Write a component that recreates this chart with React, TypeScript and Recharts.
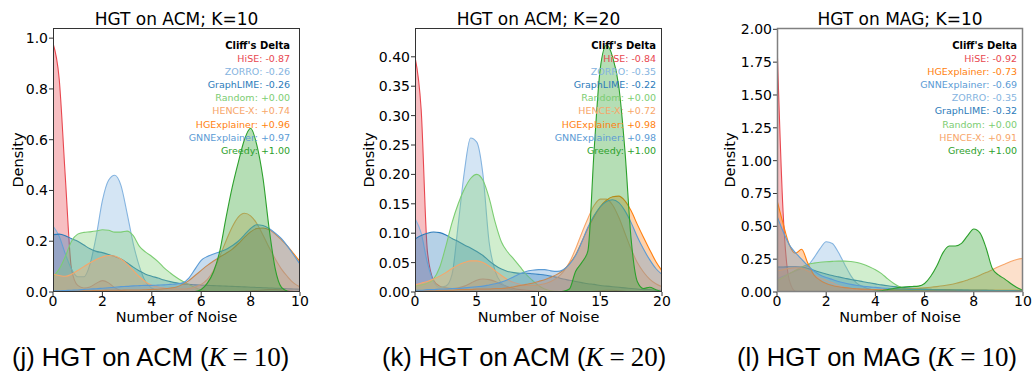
import React from 'react';
import { ComposedChart, Area, XAxis, YAxis } from 'recharts';

// x grids for the density curves
const xs10 = [0, 0.25, 0.5, 0.75, 1, 1.25, 1.5, 1.75, 2, 2.25, 2.5, 2.75, 3, 3.25, 3.5, 3.75, 4, 4.25, 4.5, 4.75, 5, 5.25, 5.5, 5.75, 6, 6.25, 6.5, 6.75, 7, 7.25, 7.5, 7.75, 8, 8.25, 8.5, 8.75, 9, 9.25, 9.5, 9.75, 10];
const xs20 = [0, 0.5, 1, 1.5, 2, 2.5, 3, 3.5, 4, 4.5, 5, 5.5, 6, 6.5, 7, 7.5, 8, 8.5, 9, 9.5, 10, 10.5, 11, 11.5, 12, 12.5, 13, 13.5, 14, 14.5, 15, 15.5, 16, 16.5, 17, 17.5, 18, 18.5, 19, 19.5, 20];

const methods = ['HiSE', 'ZORRO', 'GraphLIME', 'Random', 'HENCE-X', 'HGExplainer', 'GNNExplainer', 'Greedy'];
const colors: Record<string, string> = {
  HiSE: '#e8474f',
  ZORRO: '#85b4e0',
  GraphLIME: '#2b7bba',
  Random: '#7ccd73',
  'HENCE-X': '#f7a66a',
  HGExplainer: '#ff7f0e',
  GNNExplainer: '#5b9bd5',
  Greedy: '#2ca02c',
};

// (j) HGT on ACM, K=10
const acm10HiSE = [0.98, 0.84, 0.45, 0.09, 0.026, 0.016, 0.02, 0.034, 0.045, 0.036, 0.017, 0.006, 0.002, 0.001, 0, 0, 0, 0, 0, 0, 0, 0, 0, 0, 0, 0, 0, 0, 0, 0.001, 0.002, 0.003, 0.004, 0.006, 0.008, 0.01, 0.01, 0.008, 0.005, 0.002, 0.001];
const acm10Zorro = [0.26, 0.22, 0.15, 0.09, 0.06, 0.06, 0.11, 0.22, 0.36, 0.44, 0.46, 0.42, 0.31, 0.19, 0.1, 0.04, 0.015, 0.005, 0.002, 0, 0, 0, 0, 0, 0, 0, 0, 0, 0, 0, 0, 0, 0, 0, 0, 0, 0, 0, 0, 0, 0];
const acm10GraphLime = [0.226, 0.228, 0.222, 0.21, 0.2, 0.185, 0.17, 0.16, 0.155, 0.148, 0.14, 0.13, 0.115, 0.098, 0.083, 0.07, 0.062, 0.055, 0.047, 0.041, 0.036, 0.032, 0.03, 0.028, 0.027, 0.026, 0.025, 0.024, 0.023, 0.022, 0.021, 0.02, 0.019, 0.018, 0.017, 0.016, 0.015, 0.014, 0.013, 0.012, 0.011];
const acm10Random = [0.06, 0.09, 0.14, 0.2, 0.228, 0.235, 0.237, 0.24, 0.245, 0.243, 0.236, 0.236, 0.24, 0.222, 0.18, 0.157, 0.14, 0.12, 0.095, 0.075, 0.057, 0.042, 0.03, 0.018, 0.008, 0.003, 0.001, 0, 0, 0, 0, 0, 0, 0, 0, 0, 0, 0, 0, 0, 0];
const acm10HenceX = [0.07, 0.065, 0.062, 0.07, 0.085, 0.1, 0.115, 0.128, 0.138, 0.144, 0.142, 0.13, 0.11, 0.085, 0.06, 0.04, 0.027, 0.02, 0.016, 0.013, 0.012, 0.012, 0.014, 0.02, 0.03, 0.05, 0.085, 0.14, 0.2, 0.255, 0.295, 0.31, 0.3, 0.27, 0.225, 0.175, 0.13, 0.09, 0.06, 0.035, 0.02];
const acm10HGExplainer = [0.003, 0.003, 0.003, 0.004, 0.004, 0.005, 0.005, 0.006, 0.006, 0.007, 0.007, 0.007, 0.008, 0.008, 0.008, 0.009, 0.01, 0.011, 0.013, 0.016, 0.02, 0.03, 0.045, 0.065, 0.085, 0.105, 0.122, 0.138, 0.152, 0.168, 0.19, 0.215, 0.237, 0.25, 0.252, 0.245, 0.228, 0.205, 0.18, 0.15, 0.12];
const acm10GNNExplainer = [0.005, 0.005, 0.006, 0.007, 0.008, 0.01, 0.012, 0.013, 0.015, 0.017, 0.019, 0.021, 0.022, 0.024, 0.025, 0.026, 0.026, 0.027, 0.028, 0.03, 0.032, 0.036, 0.055, 0.09, 0.125, 0.14, 0.15, 0.158, 0.167, 0.182, 0.2, 0.225, 0.25, 0.265, 0.262, 0.25, 0.232, 0.21, 0.18, 0.145, 0.11];
const acm10Greedy = [0, 0, 0, 0, 0, 0, 0, 0, 0, 0, 0, 0, 0, 0, 0, 0, 0, 0, 0, 0, 0, 0, 0, 0.002, 0.01, 0.035, 0.08, 0.16, 0.29, 0.41, 0.51, 0.6, 0.645, 0.58, 0.45, 0.25, 0.09, 0.018, 0.003, 0, 0];

// (k) HGT on ACM, K=20
const acm20HiSE = [0.4, 0.31, 0.07, 0.02, 0.01, 0.007, 0.006, 0.007, 0.01, 0.015, 0.02, 0.022, 0.021, 0.018, 0.013, 0.009, 0.006, 0.004, 0.003, 0.002, 0.001, 0, 0, 0, 0, 0, 0, 0, 0, 0.001, 0.002, 0.003, 0.003, 0.002, 0.001, 0, 0, 0, 0, 0, 0];
const acm20Zorro = [0.125, 0.1, 0.05, 0.018, 0.008, 0.01, 0.03, 0.115, 0.205, 0.262, 0.255, 0.2, 0.085, 0.035, 0.015, 0.007, 0.003, 0.001, 0, 0, 0, 0, 0, 0, 0, 0, 0, 0, 0, 0, 0, 0, 0, 0, 0, 0, 0, 0, 0, 0, 0];
const acm20GraphLime = [0.09, 0.096, 0.1, 0.102, 0.101, 0.097, 0.091, 0.086, 0.08, 0.075, 0.069, 0.062, 0.053, 0.045, 0.039, 0.035, 0.033, 0.032, 0.032, 0.031, 0.03, 0.029, 0.027, 0.025, 0.022, 0.02, 0.018, 0.016, 0.014, 0.013, 0.011, 0.01, 0.009, 0.008, 0.007, 0.006, 0.005, 0.004, 0.004, 0.003, 0.003];
const acm20Random = [0.01, 0.012, 0.015, 0.022, 0.042, 0.078, 0.118, 0.15, 0.175, 0.193, 0.2, 0.19, 0.16, 0.118, 0.085, 0.068, 0.056, 0.043, 0.03, 0.02, 0.011, 0.005, 0.002, 0.001, 0, 0, 0, 0, 0, 0, 0, 0, 0, 0, 0, 0, 0, 0, 0, 0, 0];
const acm20HenceX = [0.012, 0.015, 0.018, 0.022, 0.027, 0.033, 0.04, 0.046, 0.05, 0.053, 0.053, 0.05, 0.044, 0.036, 0.028, 0.021, 0.016, 0.013, 0.011, 0.011, 0.012, 0.014, 0.018, 0.024, 0.034, 0.05, 0.073, 0.1, 0.125, 0.147, 0.158, 0.158, 0.148, 0.127, 0.1, 0.073, 0.05, 0.034, 0.022, 0.014, 0.009];
const acm20HGExplainer = [0.002, 0.002, 0.002, 0.003, 0.003, 0.003, 0.003, 0.004, 0.004, 0.004, 0.005, 0.005, 0.005, 0.006, 0.006, 0.007, 0.009, 0.011, 0.013, 0.015, 0.018, 0.021, 0.025, 0.03, 0.037, 0.048, 0.063, 0.085, 0.108, 0.128, 0.145, 0.156, 0.162, 0.163, 0.155, 0.138, 0.115, 0.093, 0.072, 0.052, 0.036];
const acm20GNNExplainer = [0.003, 0.003, 0.004, 0.004, 0.005, 0.005, 0.006, 0.006, 0.007, 0.008, 0.009, 0.01, 0.012, 0.014, 0.017, 0.021, 0.026, 0.031, 0.035, 0.037, 0.038, 0.038, 0.036, 0.035, 0.038, 0.047, 0.062, 0.085, 0.11, 0.13, 0.145, 0.154, 0.157, 0.152, 0.138, 0.118, 0.094, 0.073, 0.055, 0.04, 0.03];
const acm20Greedy = [0, 0, 0, 0, 0, 0, 0, 0, 0, 0, 0, 0, 0, 0, 0, 0, 0, 0, 0, 0, 0, 0, 0, 0, 0.001, 0.005, 0.035, 0.05, 0.07, 0.24, 0.38, 0.42, 0.4, 0.35, 0.24, 0.09, 0.018, 0.006, 0.008, 0.004, 0];

// (l) HGT on MAG, K=10
const mag10HiSE = [1.9, 0.6, 0.09, 0.005, 0, 0, 0, 0, 0, 0, 0, 0, 0, 0, 0, 0, 0, 0, 0, 0, 0, 0, 0, 0, 0, 0, 0, 0, 0, 0, 0, 0, 0, 0, 0, 0, 0, 0, 0, 0, 0];
const mag10Zorro = [0.1, 0.12, 0.14, 0.16, 0.18, 0.2, 0.26, 0.33, 0.383, 0.37, 0.3, 0.21, 0.125, 0.065, 0.04, 0.022, 0.013, 0.008, 0.005, 0.003, 0.002, 0, 0, 0, 0, 0, 0, 0, 0, 0, 0, 0, 0, 0, 0, 0, 0, 0, 0, 0, 0];
const mag10GraphLime = [0.19, 0.19, 0.192, 0.192, 0.19, 0.18, 0.165, 0.15, 0.137, 0.125, 0.115, 0.105, 0.095, 0.087, 0.078, 0.07, 0.062, 0.054, 0.047, 0.041, 0.036, 0.032, 0.028, 0.025, 0.022, 0.02, 0.018, 0.017, 0.016, 0.015, 0.014, 0.013, 0.013, 0.012, 0.012, 0.011, 0.011, 0.01, 0.01, 0.01, 0.01];
const mag10Random = [0.085, 0.11, 0.14, 0.165, 0.19, 0.21, 0.22, 0.226, 0.23, 0.233, 0.235, 0.235, 0.232, 0.225, 0.212, 0.193, 0.17, 0.14, 0.1, 0.065, 0.038, 0.022, 0.012, 0.006, 0.003, 0.001, 0, 0, 0, 0, 0, 0, 0, 0, 0, 0, 0, 0, 0, 0, 0];
const mag10HenceX = [0.16, 0.17, 0.18, 0.185, 0.18, 0.16, 0.13, 0.105, 0.09, 0.07, 0.05, 0.035, 0.025, 0.02, 0.018, 0.017, 0.017, 0.018, 0.019, 0.02, 0.022, 0.024, 0.026, 0.029, 0.032, 0.036, 0.041, 0.047, 0.055, 0.065, 0.077, 0.092, 0.108, 0.127, 0.148, 0.17, 0.192, 0.212, 0.232, 0.248, 0.256];
const mag10HGExplainer = [0.7, 0.52, 0.36, 0.295, 0.325, 0.22, 0.13, 0.09, 0.065, 0.05, 0.04, 0.033, 0.028, 0.025, 0.022, 0.02, 0.018, 0.017, 0.016, 0.015, 0.015, 0.015, 0.015, 0.015, 0.015, 0.014, 0.014, 0.014, 0.014, 0.013, 0.013, 0.013, 0.013, 0.013, 0.012, 0.012, 0.012, 0.012, 0.012, 0.012, 0.012];
const mag10GNNExplainer = [0.58, 0.46, 0.36, 0.3, 0.25, 0.2, 0.16, 0.13, 0.11, 0.095, 0.08, 0.068, 0.058, 0.05, 0.044, 0.039, 0.035, 0.031, 0.028, 0.025, 0.023, 0.021, 0.02, 0.019, 0.018, 0.017, 0.016, 0.016, 0.015, 0.015, 0.014, 0.014, 0.013, 0.013, 0.012, 0.012, 0.011, 0.011, 0.011, 0.01, 0.01];
const mag10Greedy = [0, 0, 0, 0, 0, 0, 0, 0, 0, 0, 0, 0, 0, 0, 0, 0.002, 0.005, 0.01, 0.018, 0.027, 0.035, 0.04, 0.042, 0.045, 0.065, 0.12, 0.2, 0.3, 0.35, 0.35, 0.37, 0.43, 0.48, 0.45, 0.335, 0.18, 0.13, 0.1, 0.065, 0.035, 0.013];

// Cliff's delta legends (in the order shown on each panel)
const acm10Legend = ['HiSE', 'ZORRO', 'GraphLIME', 'Random', 'HENCE-X', 'HGExplainer', 'GNNExplainer', 'Greedy'];
const acm10Delta = ['-0.87', '-0.26', '-0.26', '+0.00', '+0.74', '+0.96', '+0.97', '+1.00'];
const acm20Legend = ['HiSE', 'ZORRO', 'GraphLIME', 'Random', 'HENCE-X', 'HGExplainer', 'GNNExplainer', 'Greedy'];
const acm20Delta = ['-0.84', '-0.35', '-0.22', '+0.00', '+0.72', '+0.98', '+0.98', '+1.00'];
const mag10Legend = ['HiSE', 'HGExplainer', 'GNNExplainer', 'ZORRO', 'GraphLIME', 'Random', 'HENCE-X', 'Greedy'];
const mag10Delta = ['-0.92', '-0.73', '-0.69', '-0.35', '-0.32', '+0.00', '+0.91', '+1.00'];

const ticks10 = [0, 2, 4, 6, 8, 10];
const ticks20 = [0, 5, 10, 15, 20];
const acm10YTicks = [0, 0.2, 0.4, 0.6, 0.8, 1.0];
const acm20YTicks = [0, 0.05, 0.1, 0.15, 0.2, 0.25, 0.3, 0.35, 0.4];
const mag10YTicks = [0, 0.25, 0.5, 0.75, 1.0, 1.25, 1.5, 1.75, 2.0];

const TOP = 28;
const BOTTOM = 292;
const FONT = 'DejaVu Sans, Verdana, sans-serif';

const panels = [
  {
    left: 53, width: 247, xs: xs10, xMax: 10, xTicks: ticks10, yMax: 1.04, yTicks: acm10YTicks, digits: 1,
    curves: [acm10HiSE, acm10Zorro, acm10GraphLime, acm10Random, acm10HenceX, acm10HGExplainer, acm10GNNExplainer, acm10Greedy],
    title: 'HGT on ACM; K=10', legend: acm10Legend, delta: acm10Delta, legendRight: 290, densityX: 22.5,
    frame: '#333', caption: '(j) HGT on ACM (', k: '10', capX: 12,
  },
  {
    left: 415, width: 247, xs: xs20, xMax: 20, xTicks: ticks20, yMax: 0.449, yTicks: acm20YTicks, digits: 2,
    curves: [acm20HiSE, acm20Zorro, acm20GraphLime, acm20Random, acm20HenceX, acm20HGExplainer, acm20GNNExplainer, acm20Greedy],
    title: 'HGT on ACM; K=20', legend: acm20Legend, delta: acm20Delta, legendRight: 656, densityX: 374,
    frame: '#333', caption: '(k) HGT on ACM (', k: '20', capX: 382,
  },
  {
    left: 777, width: 246, xs: xs10, xMax: 10, xTicks: ticks10, yMax: 2.01, yTicks: mag10YTicks, digits: 2,
    curves: [mag10HiSE, mag10Zorro, mag10GraphLime, mag10Random, mag10HenceX, mag10HGExplainer, mag10GNNExplainer, mag10Greedy],
    title: 'HGT on MAG; K=10', legend: mag10Legend, delta: mag10Delta, legendRight: 1017, densityX: 735,
    frame: '#808080', caption: '(l) HGT on MAG (', k: '10', capX: 737,
  },
];

function Panel({ p }: { p: any }) {
  const rows = p.xs.map((x: number, i: number) => {
    const r: any = { x };
    methods.forEach((m, j) => (r[m] = p.curves[j][i]));
    return r;
  });
  const tickStyle = { fontSize: 14, fill: '#000', fontFamily: FONT };
  return (
    <div style={{ position: 'absolute', left: p.left - 60, top: 0 }}>
      <ComposedChart width={p.width + 70} height={320} data={rows} margin={{ top: TOP, right: 10, bottom: 0, left: 0 }}>
        <XAxis
          dataKey="x" type="number" domain={[0, p.xMax]} ticks={p.xTicks} interval={0} allowDataOverflow
          height={28} axisLine={false} tickSize={4} tickMargin={0}
          tickLine={{ stroke: '#333' }} tick={tickStyle}
        />
        <YAxis
          type="number" domain={[0, p.yMax]} ticks={p.yTicks} interval={0} allowDataOverflow
          width={60} axisLine={false} tickSize={4} tickMargin={1}
          tickLine={{ stroke: '#333' }} tick={tickStyle}
          tickFormatter={(v: number) => v.toFixed(p.digits)}
        />
        {methods.map((m) => (
          <Area
            key={m} dataKey={m} type="monotone" stroke={colors[m]} strokeWidth={1.1}
            fill={colors[m]} fillOpacity={0.35} dot={false} activeDot={false}
            isAnimationActive={false}
          />
        ))}
      </ComposedChart>
    </div>
  );
}

function Overlay() {
  return (
    <svg width={1032} height={372} style={{ position: 'absolute', left: 0, top: 0, pointerEvents: 'none' }}>
      {panels.map((p, i) => {
        const cx = p.left + p.width / 2;
        return (
          <g key={i}>
            <rect x={p.left + 0.5} y={TOP + 0.5} width={p.width - 1} height={BOTTOM - TOP - 1} fill="none" stroke={p.frame} strokeWidth={i === 2 ? 1.5 : 1} />
            <text x={cx} y={25} textAnchor="middle" fontFamily={FONT} fontSize={17}>{p.title}</text>
            <text x={cx} y={322} textAnchor="middle" fontFamily={FONT} fontSize={14.5}>Number of Noise</text>
            <text x={p.densityX} y={160} textAnchor="middle" fontFamily={FONT} fontSize={14.5}
              transform={`rotate(-90 ${p.densityX} 160)`}>Density</text>
            <text x={p.legendRight} y={48.7} textAnchor="end" fontFamily={FONT} fontSize={10} fontWeight="bold">Cliff's Delta</text>
            {p.legend.map((m: string, j: number) => (
              <text key={m} x={p.legendRight} y={48.7 + 13.15 * (j + 1)} textAnchor="end" fontFamily={FONT} fontSize={9.5} fill={colors[m]}>
                {m}: {p.delta[j]}
              </text>
            ))}
            <text x={p.capX} y={366} fontFamily="Liberation Sans, Arial, sans-serif" fontSize={25.5}>
              {p.caption}
              <tspan fontFamily="Liberation Serif, serif" fontSize={27} fontStyle="italic">K</tspan>
              <tspan fontFamily="Liberation Serif, serif" fontSize={27} dx={6}>=</tspan>
              <tspan fontFamily="Liberation Serif, serif" fontSize={27} dx={6}>{p.k}</tspan>
              <tspan>)</tspan>
            </text>
          </g>
        );
      })}
    </svg>
  );
}

export default function App() {
  return (
    <div style={{ position: 'absolute', left: 0, top: 0, width: 1032, height: 372, background: '#fff' }}>
      {panels.map((p, i) => (
        <Panel key={i} p={p} />
      ))}
      <Overlay />
    </div>
  );
}
